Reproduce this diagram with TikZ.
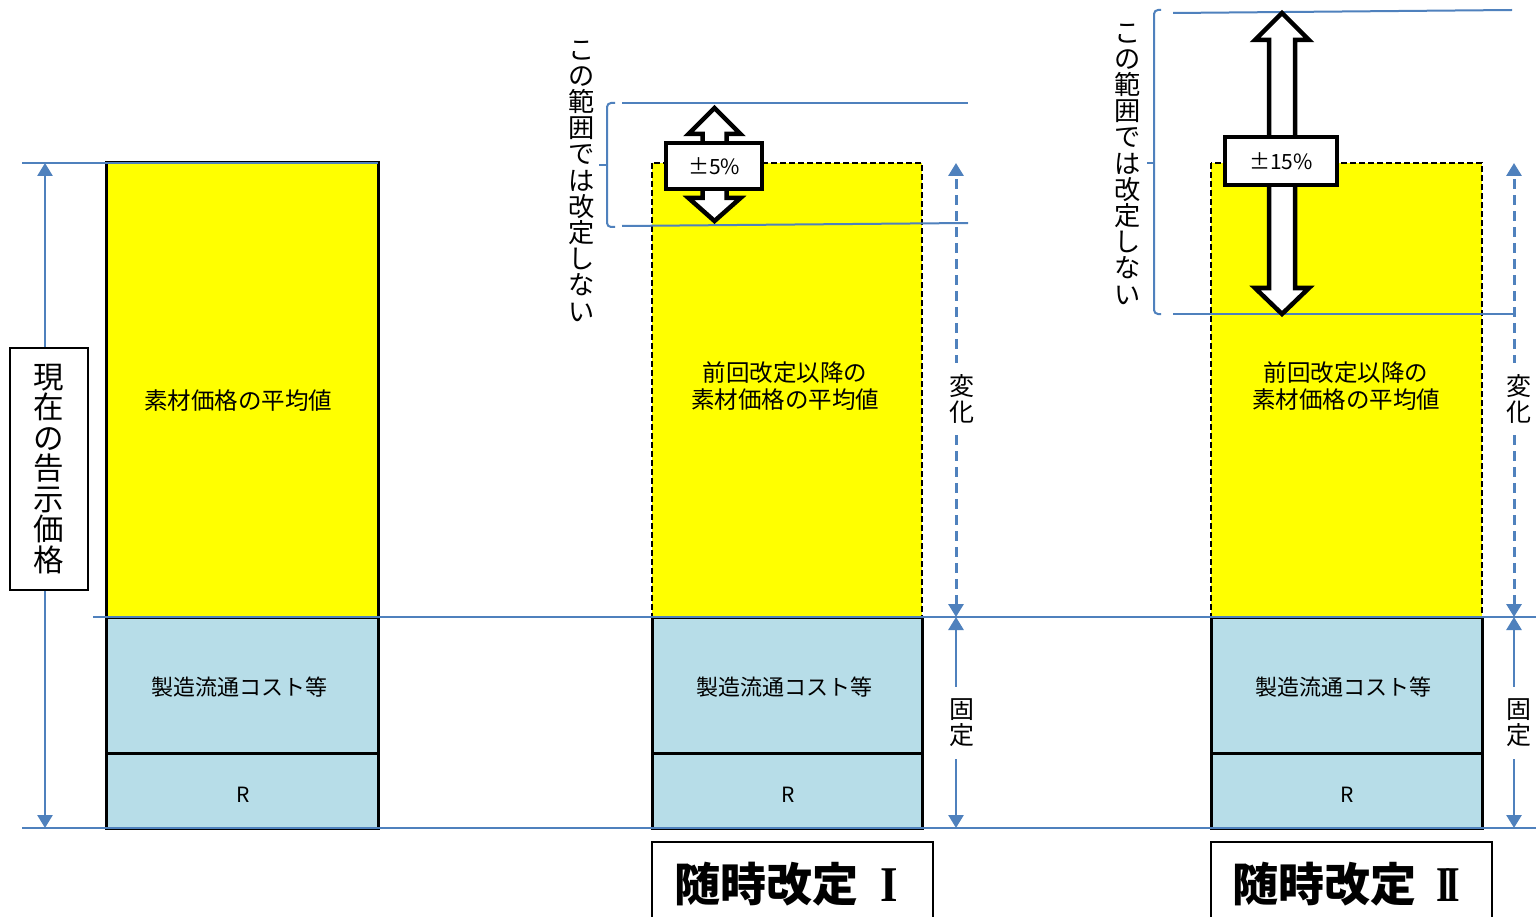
\documentclass[tikz,border=0pt]{standalone}
\usepackage{fontspec}
\setmainfont{Noto Sans CJK JP}
\newfontfamily\romfont{Liberation Serif}
\usetikzlibrary{arrows.meta}
\definecolor{lineblue}{RGB}{79,129,189}
\definecolor{barblue}{RGB}{183,221,232}
\definecolor{baryellow}{RGB}{255,255,0}
\begin{document}
\begin{tikzpicture}[x=1pt,y=-1pt,
  fs/.style={font=\fontsize{#1}{#1}\selectfont},
  vt/.style={align=center, inner sep=0pt, font=\fontsize{#1}{#1}\selectfont},
  barline/.style={draw=black, line width=3pt},
  yeldash/.style={draw=black, line width=2.6pt, dash pattern=on 6pt off 3pt},
  guide/.style={draw=lineblue, line width=2pt},
  dimarrow/.style={draw=lineblue, line width=2.7pt, {Triangle[width=15pt,length=13pt]}-{Triangle[width=15pt,length=13pt]}},
  dimdash/.style={dimarrow, line width=3pt, dash pattern=on 10pt off 6pt},
  hollow/.style={draw=black, fill=white, line width=4.5pt, line join=miter},
  pctbox/.style={draw=black, fill=white, line width=4.5pt, inner sep=0pt, font=\fontsize{21}{21}\selectfont},
  sidelbl/.style={fill=white, inner xsep=1pt, inner ysep=12pt, align=center, font=\fontsize{25}{26}\selectfont},
  titlebox/.style={draw=black, line width=2pt},
  titletext/.style={inner sep=0pt, font=\fontsize{46}{46}\selectfont\bfseries},
  brace/.style={draw=lineblue, line width=2pt, rounded corners=4pt}
]
\useasboundingbox (0,0) rectangle (1536,917);
\fill[white] (0,0) rectangle (1536,917);

% ---------- bars ----------
% left
\fill[baryellow] (106,163) rectangle (378,617);
\draw[barline] (106,163) rectangle (378,617);
\draw[barline, fill=barblue] (106,617) rectangle (378,753);
\draw[barline, fill=barblue] (106,753) rectangle (378,828);
% middle
\fill[baryellow] (652,163) rectangle (922,617);
\draw[yeldash] (652,163) rectangle (922,617);
\draw[barline, fill=barblue] (652,617) rectangle (922,753);
\draw[barline, fill=barblue] (652,753) rectangle (922,828);
% right
\fill[baryellow] (1211,163) rectangle (1482,617);
\draw[yeldash] (1211,163) rectangle (1482,617);
\draw[barline, fill=barblue] (1211,617) rectangle (1482,753);
\draw[barline, fill=barblue] (1211,753) rectangle (1482,828);

% ---------- guide lines ----------
\draw[guide] (22,163) -- (378,163);
\draw[guide] (93,617) -- (1536,617);
\draw[guide] (22,828) -- (1536,828);
\draw[guide] (622,103) -- (968,103);
\draw[guide] (622,226) -- (968,223);
\draw[guide] (1173,13) -- (1512,10);
\draw[guide] (1173,314) -- (1513,314);

% braces
\draw[brace] (615,103) -- (607,103) -- (607,227) -- (615,227);
\draw[guide] (607,165) -- (599,165);
\draw[brace] (1161,10) -- (1154,10) -- (1154,314) -- (1161,314);
\draw[guide] (1154,163) -- (1147,163);

% ---------- bar texts ----------
\node[fs=23.5] (avgA) at (238,401) {素材価格の平均値};
\node[align=center, font=\fontsize{23.5}{27}\selectfont] (avgB) at (785,386) {前回改定以降の\\素材価格の平均値};
\node[align=center, font=\fontsize{23.5}{27}\selectfont] (avgC) at (1346,386) {前回改定以降の\\素材価格の平均値};
\node[fs=22] (costA) at (239,687) {製造流通コスト等};
\node[fs=22] (costB) at (784,687) {製造流通コスト等};
\node[fs=22] (costC) at (1343,687) {製造流通コスト等};
\node[fs=21] (rA) at (243,795) {R};
\node[fs=21] (rB) at (788,795) {R};
\node[fs=21] (rC) at (1347,795) {R};

% ---------- left dimension ----------
\coordinate (dimLtop) at (45,163);
\coordinate (dimLbot) at (45,828);
\draw[dimarrow] (dimLbot) -- (dimLtop);
\node[draw=black, fill=white, line width=1.8pt, minimum width=78pt, minimum height=242pt,
      vt=30.5] (curprice) at (49,469) {現\\在\\の\\告\\示\\価\\格};

% ---------- middle dimensions ----------
\coordinate (vBtop) at (956,163);
\coordinate (vBmid) at (956,617);
\coordinate (vBbot) at (956,828);
\draw[dimdash] (vBmid) -- (vBtop);
\draw[dimarrow] (vBmid) -- (vBbot);
\node[sidelbl] (chgB) at (962,399) {変\\化};
\node[sidelbl] (fixB) at (962,723) {固\\定};

% ---------- right dimensions ----------
\coordinate (vCtop) at (1514,163);
\coordinate (vCmid) at (1514,617);
\coordinate (vCbot) at (1514,828);
\draw[dimdash] (vCmid) -- (vCtop);
\draw[dimarrow] (vCmid) -- (vCbot);
\node[sidelbl] (chgC) at (1519,399) {変\\化};
\node[sidelbl] (fixC) at (1519,723) {固\\定};

% ---------- hollow double arrows ----------
\draw[hollow] (714.5,108) -- (740.5,134) -- (726.5,134) -- (726.5,198) -- (740.5,198)
  -- (714.5,221) -- (688.5,198) -- (702.5,198) -- (702.5,134) -- (688.5,134) -- cycle;
\node[pctbox, minimum width=96pt, minimum height=46pt] (pct5) at (714,166) {±5\%};

\draw[hollow] (1282,13) -- (1309,40) -- (1295,40) -- (1295,288) -- (1309,288)
  -- (1282,314) -- (1255,288) -- (1269,288) -- (1269,40) -- (1255,40) -- cycle;
\node[pctbox, minimum width=112pt, minimum height=48pt] (pct15) at (1281,161) {±15\%};

% ---------- vertical notes ----------
\node[vt=26.2] (noteB) at (582,181) {こ\\の\\範\\囲\\で\\は\\改\\定\\し\\な\\い};
\node[vt=26.2] (noteC) at (1128,164) {こ\\の\\範\\囲\\で\\は\\改\\定\\し\\な\\い};

% ---------- titles ----------
\draw[titlebox] (652,842) rectangle (933,960);
\node[titletext] (titleB) at (786,884) {随時改定\kern22pt{\romfont\bfseries\fontsize{50}{50}\selectfont\scalebox{0.9}[1]{I}}};
\draw[titlebox] (1211,842) rectangle (1492,960);
\node[titletext] (titleC) at (1346,884) {随時改定\kern20pt{\romfont\bfseries\fontsize{50}{50}\selectfont\scalebox{0.75}[1]{I\kern-0.14em I}}};
\end{tikzpicture}
\end{document}
